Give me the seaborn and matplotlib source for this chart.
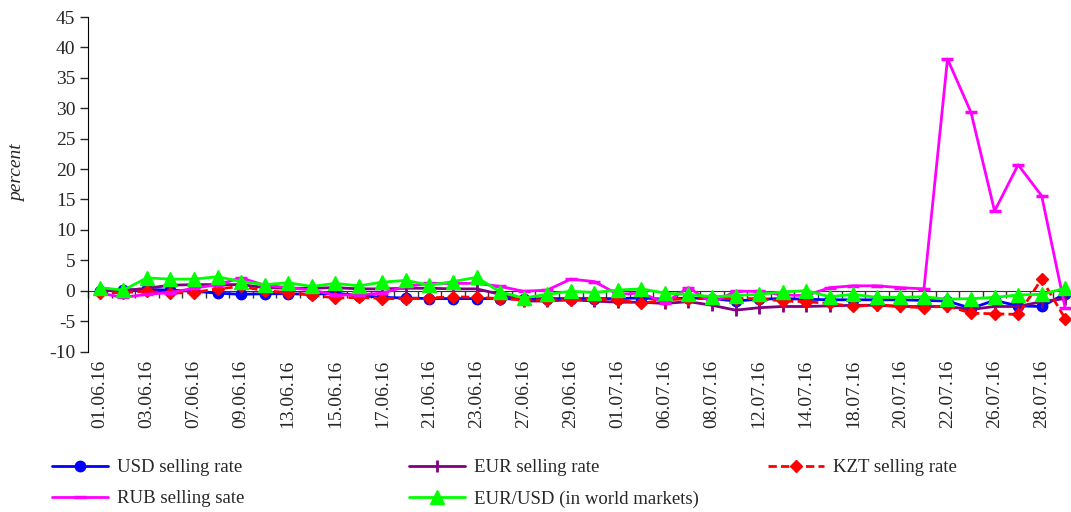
import matplotlib
matplotlib.use("Agg")
import matplotlib.pyplot as plt
import seaborn as sns
import numpy as np

dates = ["01.06.16", "02.06.16", "03.06.16", "06.06.16", "07.06.16", "08.06.16", "09.06.16",
         "10.06.16", "13.06.16", "14.06.16", "15.06.16", "16.06.16", "17.06.16", "20.06.16",
         "21.06.16", "22.06.16", "23.06.16", "24.06.16", "27.06.16", "28.06.16", "29.06.16",
         "30.06.16", "01.07.16", "05.07.16", "06.07.16", "07.07.16", "08.07.16", "11.07.16",
         "12.07.16", "13.07.16", "14.07.16", "15.07.16", "18.07.16", "19.07.16", "20.07.16",
         "21.07.16", "22.07.16", "25.07.16", "26.07.16", "27.07.16", "28.07.16", "29.07.16"]

usd = [0.0, 0.1, 0.2, 0.1, -0.1, -0.4, -0.6, -0.5, -0.5, -0.6, -0.4, -0.8, -1.1, -1.2,
       -1.3, -1.3, -1.3, -1.3, -1.4, -1.3, -1.3, -1.3, -1.3, -1.2, -1.4, -1.2, -1.3, -1.7,
       -1.4, -1.3, -1.4, -1.5, -1.5, -1.5, -1.5, -1.6, -1.7, -2.9, -1.6, -2.5, -2.6, -0.5]
eur = [0.1, 0.0, 0.4, 0.9, 1.0, 1.0, 1.0, 0.5, 0.4, 0.4, 0.5, 0.3, 0.3, 0.4,
       0.4, 0.3, 0.3, -0.6, -1.7, -1.7, -1.5, -1.7, -1.9, -1.9, -2.1, -1.8, -2.4, -3.2,
       -2.8, -2.6, -2.6, -2.5, -2.4, -2.4, -2.6, -2.6, -2.6, -3.1, -2.6, -2.6, -1.8, -1.3]
kzt = [-0.4, -0.3, -0.1, -0.4, -0.3, 0.3, 0.7, 0.0, -0.3, -0.7, -1.2, -1.1, -1.3, -1.3,
       -1.2, -1.0, -1.1, -1.3, -1.5, -1.5, -1.5, -1.4, -1.5, -2.1, -1.5, -1.3, -1.3, -1.3,
       -1.3, -1.7, -1.8, -2.1, -2.6, -2.3, -2.6, -2.8, -2.5, -3.7, -3.8, -3.9, 1.9, -4.6]
rub = [-0.4, -1.1, -0.6, -0.3, 0.4, 1.0, 2.1, 0.9, 0.5, 0.1, -0.7, -0.7, -0.4, 0.7,
       1.2, 1.2, 1.2, 0.7, -0.1, 0.1, 1.9, 1.5, -0.6, -0.4, -2.0, 0.5, -2.0, -0.1,
       -0.1, -0.7, -0.8, 0.5, 0.8, 0.8, 0.5, 0.3, 38.1, 29.3, 13.1, 20.7, 15.6, -2.9]
eurusd = [0.5, 0.1, 2.1, 1.9, 1.9, 2.3, 1.5, 1.0, 1.3, 0.7, 1.2, 0.8, 1.4, 1.7,
          0.9, 1.5, 2.2, -0.2, -1.2, -0.6, -0.1, -0.3, 0.1, 0.3, -0.4, -0.6, -1.0, -0.8,
          -0.6, -0.2, 0.0, -1.0, -0.6, -1.1, -1.1, -1.0, -1.4, -1.3, -1.1, -0.7, -0.6, 0.4]

series_names = ["USD selling rate", "EUR selling rate", "KZT selling rate",
                "RUB selling sate", "EUR/USD (in world markets)"]
y_ticks = [-10, -5, 0, 5, 10, 15, 20, 25, 30, 35, 40, 45]

sns.set_style("white")
plt.rcParams["font.family"] = ["Liberation Serif", "DejaVu Serif"]
plt.rcParams["axes.unicode_minus"] = False

fig = plt.figure(figsize=(10.71, 5.12), dpi=100)
ax = fig.add_axes([88 / 1071, 1 - 351.5 / 512, (1077 - 88) / 1071, (351.5 - 17) / 512])

x = np.arange(len(dates))
styles = [
    dict(color="#0000FF", marker="o", markersize=7.5, linestyle="-", markeredgewidth=1),
    dict(color="#800080", marker="|", markersize=9, linestyle="-", markeredgewidth=2),
    dict(color="#FF0000", marker="D", markersize=6.5, linestyle=(0, (3, 1.5)), markeredgewidth=1),
    dict(color="#FF00FF", marker="_", markersize=9, linestyle="-", markeredgewidth=2.5),
    dict(color="#00FF00", marker="^", markersize=10, linestyle="-", markeredgewidth=1),
]
data = [usd, eur, kzt, rub, eurusd]
lines = []
for name, vals, st in zip(series_names, data, styles):
    sns.lineplot(x=x, y=vals, ax=ax, linewidth=2.0, label=name, legend=False,
                 markeredgecolor=st["color"], **st)
    lines.append(ax.get_lines()[-1])

ax.set_xlim(-0.5, len(dates) - 0.5)
ax.set_ylim(-10, 45)
ax.set_yticks(y_ticks)
ax.tick_params(axis="y", direction="out", length=6, width=1, pad=3, labelsize=14, left=True)

for s in ["top", "right"]:
    ax.spines[s].set_visible(False)
ax.spines["left"].set_color("black")
ax.spines["bottom"].set_position(("data", 0))
ax.spines["bottom"].set_color("#333333")
ax.spines["bottom"].set_zorder(1)
ax.set_xticks(np.arange(-0.5, len(dates), 1.0))
ax.set_xticklabels([])
ax.tick_params(axis="x", direction="out", length=5, width=1, color="#333333", bottom=True)

sec = ax.secondary_xaxis(0)
sec.set_xticks(x[::2])
sec.set_xticklabels(dates[::2], rotation=90, fontsize=14)
sec.tick_params(length=0, pad=6)
sec.spines["bottom"].set_visible(False)

ax.set_ylabel("")
fig.text(18 / 1071, 1 - 173 / 512, "percent", rotation=90, style="italic",
         fontsize=14, ha="center", va="center")

leg_kw = dict(frameon=False, fontsize=13.5, handlelength=3.0, handletextpad=0.45,
              labelspacing=0.75, loc="upper left", borderaxespad=0, borderpad=0)
fig.legend([lines[0], lines[3]], [series_names[0], series_names[3]],
           bbox_to_anchor=(52 / 1071, 1 - 459 / 512), **leg_kw)
fig.legend([lines[1], lines[4]], [series_names[1], series_names[4]],
           bbox_to_anchor=(409 / 1071, 1 - 459 / 512), **leg_kw)
fig.legend([lines[2]], [series_names[2]],
           bbox_to_anchor=(768 / 1071, 1 - 459 / 512), **leg_kw)

fig.savefig("out.png", dpi=100)
